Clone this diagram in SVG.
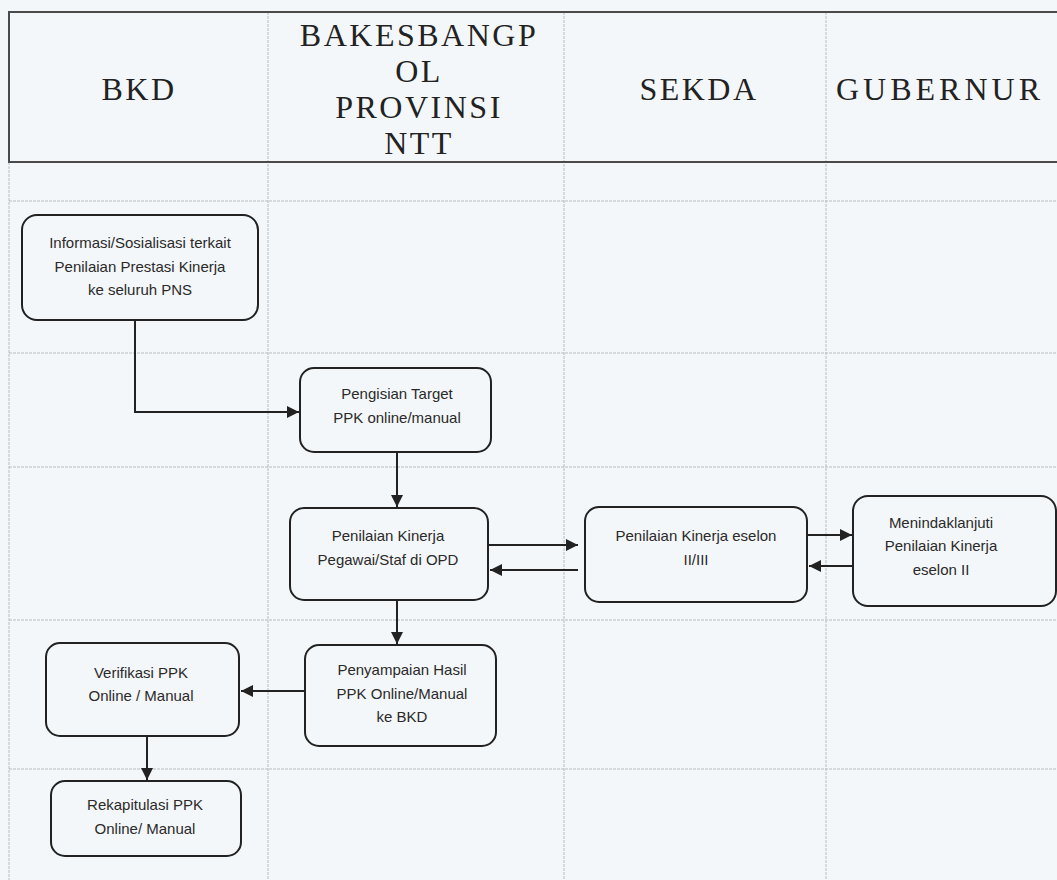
<svg xmlns="http://www.w3.org/2000/svg" width="1057" height="880" viewBox="0 0 1057 880">
<style>
.bg{fill:#f4f7f9}
.grid{stroke:#b8bcc0;stroke-width:1;stroke-dasharray:3 1}
.frame{stroke:#4a4a4a;stroke-width:2;fill:none}
.hdr{font-family:"Liberation Serif","Times New Roman",serif;font-size:32px;fill:#222;letter-spacing:2.5px;text-anchor:middle}
.box{fill:none;stroke:#222;stroke-width:2}
.lbl{font-family:"Liberation Sans",Arial,sans-serif;font-size:15px;fill:#2a2a2a;text-anchor:middle}
.edge{fill:none;stroke:#222;stroke-width:2}
</style>
<defs>
<marker id="ah" viewBox="0 0 12 12" refX="12" refY="6" markerWidth="12" markerHeight="12" markerUnits="userSpaceOnUse" orient="auto">
<path d="M0,0 L12,6 L0,12 Z" fill="#222"/>
</marker>
</defs>
<rect class="bg" x="0" y="0" width="1057" height="880"/>
<g id="grid">
<line class="grid" x1="268" y1="12" x2="268" y2="880"/>
<line class="grid" x1="564" y1="12" x2="564" y2="880"/>
<line class="grid" x1="826" y1="12" x2="826" y2="880"/>
<line class="grid" x1="9" y1="162" x2="9" y2="880"/>
<line class="grid" x1="9" y1="201" x2="1057" y2="201"/>
<line class="grid" x1="9" y1="353" x2="1057" y2="353"/>
<line class="grid" x1="9" y1="467" x2="1057" y2="467"/>
<line class="grid" x1="9" y1="620" x2="1057" y2="620"/>
<line class="grid" x1="9" y1="769" x2="1057" y2="769"/>
<path class="frame" d="M1057,12 H9 V162 H1057"/>
</g>
<g id="headers">
<text class="hdr" x="139" y="100">BKD</text>
<text class="hdr"><tspan x="419" y="46">BAKESBANGP</tspan><tspan x="419" y="82">OL</tspan><tspan x="419" y="118">PROVINSI</tspan><tspan x="419" y="154">NTT</tspan></text>
<text class="hdr" x="699" y="100">SEKDA</text>
<text class="hdr" x="836" y="100" style="text-anchor:start;letter-spacing:4px">GUBERNUR</text>
</g>
<g id="n1">
<rect class="box" x="22" y="215" width="236" height="105" rx="15"/>
<text class="lbl" x="140" y="248">Informasi/Sosialisasi terkait</text>
<text class="lbl" x="140" y="272">Penilaian Prestasi Kinerja</text>
<text class="lbl" x="140" y="295">ke seluruh PNS</text>
</g>
<g id="n2">
<rect class="box" x="300" y="368" width="191" height="84" rx="14"/>
<text class="lbl" x="397" y="399">Pengisian Target</text>
<text class="lbl" x="397" y="423">PPK online/manual</text>
</g>
<g id="n3">
<rect class="box" x="290" y="508" width="198" height="92" rx="14"/>
<text class="lbl" x="388" y="541">Penilaian Kinerja</text>
<text class="lbl" x="388" y="565">Pegawai/Staf di OPD</text>
</g>
<g id="n4">
<rect class="box" x="585" y="507" width="222" height="95" rx="14"/>
<text class="lbl" x="696" y="541">Penilaian Kinerja eselon</text>
<text class="lbl" x="696" y="565">II/III</text>
</g>
<g id="n5">
<rect class="box" x="853" y="496" width="203" height="110" rx="15"/>
<text class="lbl" x="941" y="528">Menindaklanjuti</text>
<text class="lbl" x="941" y="551">Penilaian Kinerja</text>
<text class="lbl" x="941" y="575">eselon II</text>
</g>
<g id="n6">
<rect class="box" x="305" y="645" width="191" height="101" rx="14"/>
<text class="lbl" x="402" y="675">Penyampaian Hasil</text>
<text class="lbl" x="402" y="699">PPK Online/Manual</text>
<text class="lbl" x="402" y="722">ke BKD</text>
</g>
<g id="n7">
<rect class="box" x="46" y="643" width="193" height="93" rx="14"/>
<text class="lbl" x="141" y="678">Verifikasi PPK</text>
<text class="lbl" x="141" y="701">Online / Manual</text>
</g>
<g id="n8">
<rect class="box" x="51" y="781" width="190" height="75" rx="14"/>
<text class="lbl" x="145" y="810">Rekapitulasi PPK</text>
<text class="lbl" x="145" y="834">Online/ Manual</text>
</g>
<g id="connectors">
<path class="edge" d="M135,320 V412 H299" marker-end="url(#ah)"/>
<path class="edge" d="M397,452 V507" marker-end="url(#ah)"/>
<path class="edge" d="M489,545 H578" marker-end="url(#ah)"/>
<path class="edge" d="M578,570 H490" marker-end="url(#ah)"/>
<path class="edge" d="M808,535 H852" marker-end="url(#ah)"/>
<path class="edge" d="M853,566 H809" marker-end="url(#ah)"/>
<path class="edge" d="M397,600 V644" marker-end="url(#ah)"/>
<path class="edge" d="M306,691 H241" marker-end="url(#ah)"/>
<path class="edge" d="M147,736 V780" marker-end="url(#ah)"/>
</g>
</svg>
